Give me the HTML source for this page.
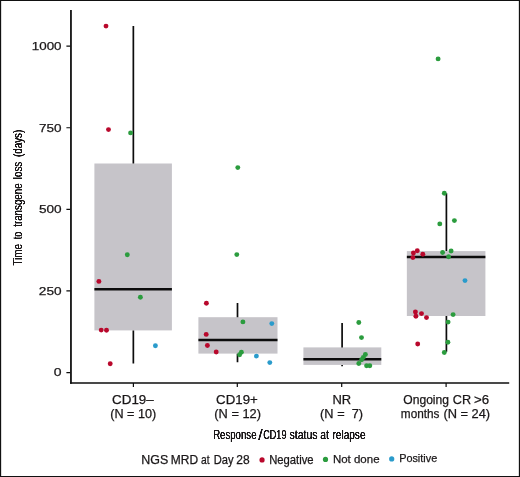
<!DOCTYPE html>
<html><head><meta charset="utf-8">
<style>
html,body{margin:0;padding:0;background:#fff;}
svg{display:block;}
text{font-family:"Liberation Sans",Arial,Helvetica,sans-serif;fill:#1a1718;stroke:#1a1718;stroke-width:0.25px;white-space:pre;}
</style></head>
<body>
<svg width="520" height="477" viewBox="0 0 520 477">
<defs>
<filter id="fath" filterUnits="userSpaceOnUse" x="200" y="420" width="180" height="30" color-interpolation-filters="sRGB"><feGaussianBlur stdDeviation="0.36 0"/><feComponentTransfer><feFuncA type="linear" slope="2.1" intercept="-0.05"/></feComponentTransfer></filter>
<filter id="fatv" filterUnits="userSpaceOnUse" x="5" y="120" width="30" height="155" color-interpolation-filters="sRGB"><feGaussianBlur stdDeviation="0 0.36"/><feComponentTransfer><feFuncA type="linear" slope="2.1" intercept="-0.05"/></feComponentTransfer></filter>
</defs>
<rect x="0" y="0" width="520" height="477" fill="#fff"/>
<g fill="#c6c4c9">
<rect x="94.4" y="163.5" width="77.5" height="166.9"/>
<rect x="198.4" y="317.2" width="79.1" height="36.4"/>
<rect x="303.4" y="347.4" width="77.9" height="17.5"/>
<rect x="406.85" y="251.1" width="78.55" height="64.9"/>
</g>
<g stroke="#0c0c0c" stroke-width="1.7" fill="none">
<path d="M133.35 25.9V163.5M133.35 330.4V363.4"/>
<path d="M237.5 302.9V317.2M237.5 353.7V362.3"/>
<path d="M342.1 323.1V347.4M342.1 364.9V366.3"/>
<path d="M446.4 193.2V251.1M446.4 316V351.8"/>
</g>
<g stroke="#0c0c0c" stroke-width="2.4" fill="none">
<path d="M94.4 289.2H171.9"/>
<path d="M198.4 340.0H277.5"/>
<path d="M303.4 359.2H381.3"/>
<path d="M406.85 256.95H485.4"/>
</g>
<g stroke="#0c0c0c" stroke-width="1.6" fill="none">
<path d="M70.95 10.05V383.85" stroke-width="1.75"/>
<path d="M70.1 383.0H509.2" stroke-width="1.7"/>
<path d="M66.4 372.55H70.2M66.4 290.95H70.2M66.4 209.35H70.2M66.4 127.75H70.2M66.4 46.15H70.2" stroke-width="1.2"/>
<path d="M133.4 383V387M237.3 383V387M341.7 383V387M446.1 383V387" stroke-width="1.2"/>
</g>
<g fill="#b9082c"><circle cx="106" cy="26.1" r="2.45"/><circle cx="108.5" cy="129.6" r="2.45"/><circle cx="98.9" cy="281.4" r="2.45"/><circle cx="101.2" cy="330.1" r="2.45"/><circle cx="106.5" cy="330.3" r="2.45"/><circle cx="110.2" cy="363.7" r="2.45"/><circle cx="206.4" cy="303.2" r="2.45"/><circle cx="206.2" cy="334.4" r="2.45"/><circle cx="207.4" cy="345.5" r="2.45"/><circle cx="216.2" cy="352" r="2.45"/><circle cx="417.3" cy="250.8" r="2.45"/><circle cx="413.4" cy="253" r="2.45"/><circle cx="422.8" cy="254.3" r="2.45"/><circle cx="412.9" cy="257.6" r="2.45"/><circle cx="415.4" cy="312" r="2.45"/><circle cx="421.5" cy="313.6" r="2.45"/><circle cx="415.9" cy="316.3" r="2.45"/><circle cx="426.5" cy="317.6" r="2.45"/><circle cx="417.7" cy="344" r="2.45"/></g>
<g fill="#2b9c3e"><circle cx="130.6" cy="132.9" r="2.45"/><circle cx="127.3" cy="254.7" r="2.45"/><circle cx="140.4" cy="297.2" r="2.45"/><circle cx="237.8" cy="167.6" r="2.45"/><circle cx="236.8" cy="254.6" r="2.45"/><circle cx="242.9" cy="321.9" r="2.45"/><circle cx="241.4" cy="352.3" r="2.45"/><circle cx="239.6" cy="354.8" r="2.45"/><circle cx="358.8" cy="322.5" r="2.45"/><circle cx="361.5" cy="337.6" r="2.45"/><circle cx="365.4" cy="354.5" r="2.45"/><circle cx="363.3" cy="357.4" r="2.45"/><circle cx="361.6" cy="359.8" r="2.45"/><circle cx="358.8" cy="363.5" r="2.45"/><circle cx="366.6" cy="365.7" r="2.45"/><circle cx="369.8" cy="365.7" r="2.45"/><circle cx="438.1" cy="58.9" r="2.45"/><circle cx="444.3" cy="193.2" r="2.45"/><circle cx="439.8" cy="223.9" r="2.45"/><circle cx="454.4" cy="220.6" r="2.45"/><circle cx="442.6" cy="252.5" r="2.45"/><circle cx="451.1" cy="251" r="2.45"/><circle cx="448.6" cy="256.8" r="2.45"/><circle cx="453.1" cy="314.6" r="2.45"/><circle cx="448.1" cy="322.1" r="2.45"/><circle cx="447.9" cy="342.2" r="2.45"/><circle cx="444.3" cy="352.5" r="2.45"/></g>
<g fill="#2a9bcb"><circle cx="155.4" cy="345.7" r="2.45"/><circle cx="271.8" cy="323.6" r="2.45"/><circle cx="256.4" cy="356.1" r="2.45"/><circle cx="269.8" cy="362.6" r="2.45"/><circle cx="465" cy="280.6" r="2.45"/></g>
<text x="53.79" y="376.3" font-size="11.4" textLength="7.79" lengthAdjust="spacingAndGlyphs">0</text>
<text x="38.85" y="294.7" font-size="11.4" textLength="22.77" lengthAdjust="spacingAndGlyphs">250</text>
<text x="38.9" y="213.1" font-size="11.4" textLength="22.71" lengthAdjust="spacingAndGlyphs">500</text>
<text x="39.06" y="131.5" font-size="11.4" textLength="22.55" lengthAdjust="spacingAndGlyphs">750</text>
<text x="31.82" y="49.9" font-size="11.4" textLength="29.73" lengthAdjust="spacingAndGlyphs">1000</text>
<text x="112.13" y="403.7" font-size="12.4" textLength="41.62" lengthAdjust="spacingAndGlyphs">CD19–</text>
<text x="110.23" y="418.45" font-size="12.4" textLength="46.01" lengthAdjust="spacingAndGlyphs">(N = 10)</text>
<text x="216.13" y="403.7" font-size="12.4" textLength="41.65" lengthAdjust="spacingAndGlyphs">CD19+</text>
<text x="214.32" y="418.45" font-size="12.4" textLength="46.63" lengthAdjust="spacingAndGlyphs">(N = 12)</text>
<text x="332.45" y="403.7" font-size="12.4" textLength="18.73" lengthAdjust="spacingAndGlyphs">NR</text>
<text x="320.13" y="418.45" font-size="12.4" textLength="42.88" lengthAdjust="spacingAndGlyphs">(N =  7)</text>
<text font-size="12.4"><tspan x="403.29" y="403.7" textLength="45.75" lengthAdjust="spacingAndGlyphs">Ongoing</tspan> <tspan x="452.76" y="403.7" textLength="18.31" lengthAdjust="spacingAndGlyphs">CR</tspan> <tspan x="473.93" y="403.7" textLength="15.12" lengthAdjust="spacingAndGlyphs">&gt;6</tspan></text>
<text font-size="12.4"><tspan x="400.87" y="418.45" textLength="38.62" lengthAdjust="spacingAndGlyphs">months</tspan> <tspan x="443.42" y="418.45" textLength="46.74" lengthAdjust="spacingAndGlyphs">(N = 24)</tspan></text>
<g filter="url(#fath)"><text font-size="13.4" style="stroke:none"><tspan x="213.15" y="438.85" textLength="43.35" lengthAdjust="spacingAndGlyphs">Response</tspan><tspan x="258.2" y="440.4" font-size="15.5" textLength="4.36" lengthAdjust="spacingAndGlyphs">/</tspan><tspan x="263.23" y="438.85" textLength="23.25" lengthAdjust="spacingAndGlyphs">CD19</tspan> <tspan x="289.51" y="438.85" textLength="28.08" lengthAdjust="spacingAndGlyphs">status</tspan> <tspan x="320.32" y="438.85" textLength="8.56" lengthAdjust="spacingAndGlyphs">at</tspan> <tspan x="332.44" y="438.85" textLength="33.07" lengthAdjust="spacingAndGlyphs">relapse</tspan></text></g>
<g filter="url(#fatv)"><text font-size="13.4" transform="translate(22.3 265.4) rotate(-90)" style="stroke:none"><tspan x="-0.18" y="0" textLength="21.45" lengthAdjust="spacingAndGlyphs">Time</tspan> <tspan x="26.08" y="0" textLength="7.59" lengthAdjust="spacingAndGlyphs">to</tspan> <tspan x="38.57" y="0" textLength="43.44" lengthAdjust="spacingAndGlyphs">transgene</tspan> <tspan x="86.26" y="0" textLength="17.37" lengthAdjust="spacingAndGlyphs">loss</tspan> <tspan x="108.31" y="0" textLength="27.42" lengthAdjust="spacingAndGlyphs">(days)</tspan></text></g>
<text font-size="11.9"><tspan x="141.3" y="464.0" textLength="26.95" lengthAdjust="spacingAndGlyphs">NGS</tspan> <tspan x="170.89" y="464.0" textLength="27.31" lengthAdjust="spacingAndGlyphs">MRD</tspan> <tspan x="201.07" y="464.0" textLength="8.57" lengthAdjust="spacingAndGlyphs">at</tspan> <tspan x="213.71" y="464.0" textLength="19.82" lengthAdjust="spacingAndGlyphs">Day</tspan> <tspan x="236.37" y="464.0" textLength="13.37" lengthAdjust="spacingAndGlyphs">28</tspan></text>
<text x="269.15" y="463.75" font-size="11.9" textLength="44.48" lengthAdjust="spacingAndGlyphs">Negative</text>
<text x="332.91" y="463.2" font-size="11.6" textLength="46.65" lengthAdjust="spacingAndGlyphs">Not done</text>
<text x="399.16" y="462.2" font-size="11.6" textLength="38.04" lengthAdjust="spacingAndGlyphs">Positive</text>
<circle cx="262.05" cy="459.9" r="2.6" fill="#b9082c"/>
<circle cx="325.5" cy="459.4" r="2.6" fill="#2b9c3e"/>
<circle cx="391.7" cy="458.9" r="2.6" fill="#2a9bcb"/>
<path d="M0 0H520V477H0Z M1.15 1.05V475.9H518.85V1.05Z" fill="#111" fill-rule="evenodd"/>
</svg>
</body></html>
